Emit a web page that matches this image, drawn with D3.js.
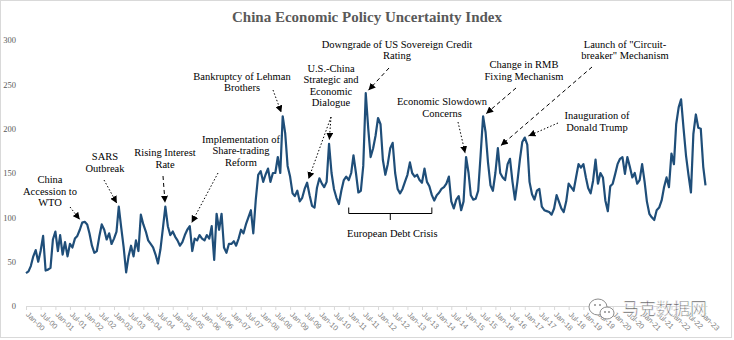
<!DOCTYPE html>
<html>
<head>
<meta charset="utf-8">
<script src="https://cdn.jsdelivr.net/npm/d3@7"></script>
<style>
  body { margin: 0; background: #fff; }
  svg { display: block; }
</style>
</head>
<body>
<div id="root"></div>
<script>
// chart data (monthly index, Jan 2000 - Mar 2023)
const title = "China Economic Policy Uncertainty Index";
const firstMonth = "2000-01";
const lastMonth = "2023-03";

const epu = [
  37, 39, 45, 56, 63, 50, 62, 79, 40, 41, 43, 75,          // 2000
  84, 62, 80, 58, 72, 56, 70, 66, 76, 79, 86, 94,          // 2001
  95, 92, 82, 68, 60, 62, 78, 92, 86, 75, 82, 70,          // 2002
  76, 84, 112, 88, 66, 38, 56, 68, 56, 74, 62, 103,        // 2003
  92, 84, 74, 70, 66, 58, 48, 64, 88, 112, 90, 80,         // 2004
  84, 78, 74, 68, 72, 80, 86, 90, 62, 76, 74, 80,          // 2005
  76, 74, 80, 76, 90, 52, 104, 86, 104, 66, 60, 70,        // 2006
  70, 73, 68, 76, 86, 82, 92, 100, 108, 82, 120, 148,      // 2007
  152, 140, 148, 155, 140, 150, 150, 168, 150, 214, 195, 158, // 2008
  146, 127, 124, 130, 118, 122, 132, 139, 125, 113, 111, 133, // 2009
  144, 138, 134, 140, 183, 150, 132, 122, 115, 130, 142, 146, // 2010
  142, 150, 170, 150, 128, 130, 158, 240, 200, 168, 178, 192, // 2011
  212, 205, 165, 148, 160, 178, 184, 150, 132, 127, 132, 140, // 2012
  148, 162, 150, 146, 148, 142, 139, 155, 140, 135, 125, 119, // 2013
  125, 128, 132, 134, 138, 146, 118, 110, 120, 124, 108, 118, // 2014
  168, 150, 125, 120, 121, 130, 170, 214, 196, 162, 136, 130, // 2015
  150, 178, 150, 145, 142, 160, 166, 140, 120, 140, 165, 185, // 2016
  190, 182, 140, 126, 120, 130, 132, 112, 108, 107, 106, 103, // 2017
  110, 125, 118, 110, 106, 118, 138, 134, 130, 145, 160, 156, // 2018
  160, 145, 133, 127, 141, 165, 138, 150, 145, 119, 107, 135, // 2019
  138, 149, 160, 166, 168, 149, 168, 157, 145, 150, 138, 142, // 2020
  160, 140, 118, 104, 100, 97, 108, 111, 119, 134, 145, 134,  // 2021
  172, 160, 205, 224, 233, 200, 170, 148, 128, 194, 216, 201, // 2022
  200, 157, 136                                               // 2023
];

const yTicks = [0, 50, 100, 150, 200, 250, 300];
const tickStepMonths = 6;

// event notes: text lines and the month the arrow points at
const events = [
  { lines: ["China", "Accession to", "WTO"], at: ["2001-12"], dash: "dot" },
  { lines: ["SARS", "Outbreak"], at: ["2003-03"], dash: "dot" },
  { lines: ["Rising Interest", "Rate"], at: ["2004-10"], dash: "dash" },
  { lines: ["Implementation of", "Share-trading", "Reform"], at: ["2005-08"], dash: "dot" },
  { lines: ["Bankruptcy of Lehman", "Brothers"], at: ["2008-10"], dash: "dot" },
  { lines: ["U.S.-China", "Strategic and", "Economic", "Dialogue"], at: ["2009-08", "2010-05"], dash: "dot" },
  { lines: ["Downgrade of US Sovereign Credit", "Rating"], at: ["2011-08"], dash: "dash" },
  { lines: ["Economic Slowdown", "Concerns"], at: ["2015-01"], dash: "dot" },
  { lines: ["Change in RMB", "Fixing Mechanism"], at: ["2015-08"], dash: "dash" },
  { lines: ["Launch of \"Circuit-", "breaker\" Mechanism"], at: ["2016-02"], dash: "dash" },
  { lines: ["Inauguration of", "Donald Trump"], at: ["2017-01"], dash: "dot" }
];
const bracketLabel = "European Debt Crisis";
const bracketSpan = ["2011-01", "2013-11"];

// layout of the notes (pixels): text centre, first baseline, arrow start
const noteLayout = [
  { cx: 50, y: 183, from: [[70, 207]] },
  { cx: 105, y: 160, from: [[104, 180]] },
  { cx: 165, y: 156, from: [[163, 176]] },
  { cx: 241, y: 142.5, from: [[218, 173]] },
  { cx: 242, y: 79.5, from: [[273, 90]] },
  { cx: 331, y: 71.5, from: [[331, 117], [331, 117]] },
  { cx: 397, y: 47.5, from: [[389, 68]] },
  { cx: 442, y: 105, from: [[458, 122]] },
  { cx: 524, y: 68, from: [[516, 88]] },
  { cx: 625, y: 47.5, from: [[592, 67]] },
  { cx: 597, y: 119, from: [[558, 123]] }
];

const width = 734, height = 340;
const plot = { left: 26, right: 705.5, top: 40, bottom: 306 };
const lineGap = 11.5;

const parseMonth = d3.utcParse("%Y-%m");
const dates = d3.utcMonth.range(parseMonth(firstMonth), d3.utcMonth.offset(parseMonth(lastMonth), 1));
const data = dates.map((d, i) => ({ date: d, value: epu[i] }));
const valueAt = (m) => {
  const t = parseMonth(m).getTime();
  return data.find((d) => d.date.getTime() === t);
};

const svg = d3.select("#root").append("svg")
  .attr("width", width)
  .attr("height", height)
  .attr("viewBox", [0, 0, width, height]);

svg.append("rect")
  .attr("x", 0.5).attr("y", 0.5)
  .attr("width", width - 3).attr("height", height - 3)
  .attr("fill", "#fff")
  .attr("stroke", "#d9d9d9");

const x = d3.scaleUtc()
  .domain([dates[0], dates[dates.length - 1]])
  .range([plot.left, plot.right]);

const y = d3.scaleLinear()
  .domain([0, 300])
  .range([plot.bottom, plot.top]);

// title
svg.append("text")
  .attr("x", width / 2)
  .attr("y", 21.5)
  .attr("text-anchor", "middle")
  .attr("font-family", "'Liberation Serif', 'Times New Roman', serif")
  .attr("font-weight", "bold")
  .attr("font-size", 15)
  .attr("fill", "#595959")
  .text(title);

// y axis: labels only
const yAxis = svg.append("g")
  .attr("transform", `translate(16, 0)`)
  .call(d3.axisLeft(y).tickValues(yTicks).tickSize(0).tickPadding(0));
yAxis.select(".domain").remove();
yAxis.selectAll("text")
  .attr("font-family", "'Liberation Serif', 'Times New Roman', serif")
  .attr("font-size", 8.5)
  .attr("fill", "#595959");

// x axis
const tickDates = d3.utcMonth.every(tickStepMonths).range(dates[0], dates[dates.length - 1]);
const xAxis = svg.append("g")
  .attr("transform", `translate(0, ${plot.bottom})`)
  .call(d3.axisBottom(x).tickValues(tickDates).tickFormat(d3.utcFormat("%b-%y")).tickSize(4).tickSizeOuter(0));
xAxis.select(".domain").attr("stroke", "#d9d9d9").attr("d", `M${plot.left},0.5H${plot.right + 2}`);
xAxis.selectAll(".tick line").attr("stroke", "#d9d9d9");
xAxis.selectAll(".tick text")
  .attr("font-family", "'Liberation Sans', Arial, sans-serif")
  .attr("font-size", 7.5)
  .attr("fill", "#7f7f7f")
  .attr("text-anchor", "start")
  .attr("y", 0)
  .attr("dy", 0)
  .attr("transform", "translate(-1, 9) rotate(45)");

// series line
svg.append("path")
  .datum(data)
  .attr("fill", "none")
  .attr("stroke", "#1f4e79")
  .attr("stroke-width", 2.2)
  .attr("stroke-linejoin", "round")
  .attr("d", d3.line().x((d) => x(d.date)).y((d) => y(d.value)));

// arrowhead
svg.append("defs").append("marker")
  .attr("id", "head")
  .attr("markerUnits", "userSpaceOnUse")
  .attr("viewBox", "0 0 8 8")
  .attr("markerWidth", 7)
  .attr("markerHeight", 7)
  .attr("refX", 8)
  .attr("refY", 4)
  .attr("orient", "auto")
  .append("path")
  .attr("d", "M0,0L8,4L0,8z")
  .attr("fill", "#000");

const notes = svg.append("g")
  .attr("font-family", "'Liberation Serif', 'Times New Roman', serif")
  .attr("font-size", 10.5)
  .attr("fill", "#000");

events.forEach((ev, i) => {
  const lay = noteLayout[i];
  const t = notes.append("text").attr("text-anchor", "middle");
  ev.lines.forEach((line, j) => {
    t.append("tspan").attr("x", lay.cx).attr("y", lay.y + j * lineGap).text(line);
  });
  ev.at.forEach((m, k) => {
    const p = valueAt(m);
    const px = x(p.date), py = y(p.value);
    const [fx, fy] = lay.from[k];
    const len = Math.hypot(px - fx, py - fy);
    const gap = 4;
    notes.append("line")
      .attr("x1", fx).attr("y1", fy)
      .attr("x2", px - (px - fx) / len * gap)
      .attr("y2", py - (py - fy) / len * gap)
      .attr("stroke", "#000")
      .attr("stroke-width", 1)
      .attr("stroke-dasharray", ev.dash === "dot" ? "1.5,2" : "4,3")
      .attr("marker-end", "url(#head)");
  });
});

// bracket for the European debt crisis
const bx0 = x(parseMonth(bracketSpan[0])), bx1 = x(parseMonth(bracketSpan[1]));
const bmid = (bx0 + bx1) / 2;
notes.append("path")
  .attr("fill", "none")
  .attr("stroke", "#000")
  .attr("stroke-width", 1)
  .attr("d", `M${bx0},207.5V213.5H${bx1}V207.5M${bmid},213.5V220`);
notes.append("text")
  .attr("x", bmid + 2)
  .attr("y", 237)
  .attr("text-anchor", "middle")
  .text(bracketLabel);

// watermark
const wm = svg.append("g").attr("transform", "translate(598, 307)");
wm.append("ellipse").attr("rx", 9).attr("ry", 8).attr("fill", "#fff").attr("stroke", "#8c8c8c");
wm.append("ellipse").attr("cx", 9).attr("cy", 6).attr("rx", 7).attr("ry", 6).attr("fill", "#fff").attr("stroke", "#8c8c8c");
wm.selectAll("circle").data([[-3, -2], [2, -2], [7, 5], [11, 5]]).join("circle")
  .attr("cx", (d) => d[0]).attr("cy", (d) => d[1]).attr("r", 1).attr("fill", "#8c8c8c");
svg.append("text")
  .attr("x", 622)
  .attr("y", 315)
  .attr("font-family", "'Noto Sans CJK SC', sans-serif")
  .attr("font-size", 17)
  .attr("fill", "#595959")
  .attr("stroke", "#fff")
  .attr("stroke-width", 0.6)
  .text("马克数据网");
</script>
</body>
</html>
